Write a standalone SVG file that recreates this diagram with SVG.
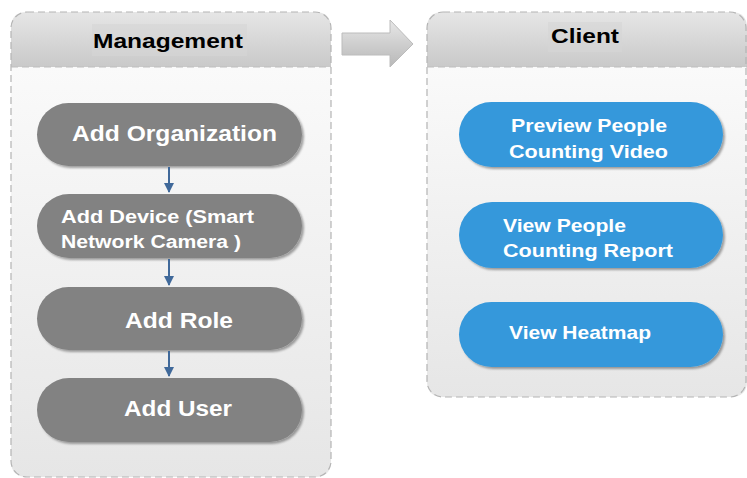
<svg xmlns="http://www.w3.org/2000/svg" width="747" height="478" viewBox="0 0 747 478">
<defs>
<linearGradient id="hdr" x1="0" y1="0" x2="0" y2="1"><stop offset="0" stop-color="#e6e6e6"/><stop offset="1" stop-color="#c9c9c9"/></linearGradient>
<linearGradient id="body" x1="0" y1="0" x2="0" y2="1"><stop offset="0" stop-color="#fafafa"/><stop offset="1" stop-color="#e6e6e6"/></linearGradient>
<linearGradient id="arr" x1="0" y1="0" x2="0" y2="1"><stop offset="0" stop-color="#e8e8e8"/><stop offset="0.5" stop-color="#cfcfcf"/><stop offset="1" stop-color="#b8b8b8"/></linearGradient>
<marker id="ah" viewBox="0 0 10 10" refX="9" refY="5" markerWidth="10" markerHeight="10" markerUnits="userSpaceOnUse" orient="auto"><path d="M0,0 L10,5 L0,10 z" fill="#40699a"/></marker>
<filter id="sh" x="-10%" y="-20%" width="130%" height="150%"><feDropShadow dx="2" dy="2" stdDeviation="1.2" flood-color="#000" flood-opacity="0.35"/></filter>
</defs>
<style>
.panel{stroke:#b4b4b4;stroke-width:1.2;stroke-dasharray:7 4}
.sep{stroke:#bdbdbd;stroke-width:1.2;stroke-dasharray:7 4;fill:none}
.gp{fill:#828282;filter:url(#sh)}
.bp{fill:#3598db;filter:url(#sh)}
.t{font-family:"Liberation Sans",Arial,sans-serif;font-weight:bold;fill:#fff}
.h{font-family:"Liberation Sans",Arial,sans-serif;font-weight:bold;fill:#000;font-size:21px}
.c{stroke:#40699a;stroke-width:2;fill:none;marker-end:url(#ah)}
</style>
<g id="management">
<path d="M11,67 V28 Q11,12 27,12 H315 Q331,12 331,28 V67 Z" fill="url(#hdr)"/>
<path d="M11,67 H331 V461 Q331,477 315,477 H27 Q11,477 11,461 Z" fill="url(#body)"/>
<rect x="11" y="12" width="320" height="465" rx="16" fill="none" class="panel"/>
<line x1="11" y1="67" x2="331" y2="67" class="sep"/>
<rect x="92" y="24" width="155" height="32" fill="#d6d6d6" opacity="0.6"/>
<text x="93" y="48" class="h" textLength="150" lengthAdjust="spacingAndGlyphs">Management</text>
</g>
<g id="client">
<path d="M427,67 V28 Q427,12 443,12 H731 Q747,12 747,28 V67 Z" fill="url(#hdr)"/>
<path d="M427,67 H747 V381 Q747,397 731,397 H443 Q427,397 427,381 Z" fill="url(#body)"/>
<rect x="427" y="12" width="319" height="385" rx="16" fill="none" class="panel"/>
<line x1="427" y1="67" x2="747" y2="67" class="sep"/>
<rect x="548" y="22" width="74" height="30" fill="#d6d6d6" opacity="0.6"/>
<text x="551" y="43" class="h" textLength="68" lengthAdjust="spacingAndGlyphs">Client</text>
</g>
<g id="bigArrow">
<path d="M342,33 H390 V20 L413,44 L390,67 V55 H342 Z" fill="url(#arr)" stroke="#bcbcbc" stroke-width="1"/>
</g>
<g id="n1"><rect x="37" y="103" width="265" height="63" rx="31.5" class="gp"/><text x="72" y="141" class="t" font-size="22" textLength="205" lengthAdjust="spacingAndGlyphs">Add Organization</text></g>
<g id="n2"><rect x="37" y="194" width="265" height="64" rx="32" class="gp"/><text x="61" y="223" class="t" font-size="18" textLength="193" lengthAdjust="spacingAndGlyphs">Add Device (Smart</text><text x="61" y="248" class="t" font-size="18" textLength="180" lengthAdjust="spacingAndGlyphs">Network Camera )</text></g>
<g id="n3"><rect x="37" y="287" width="265" height="63" rx="31.5" class="gp"/><text x="125" y="328" class="t" font-size="22" textLength="108" lengthAdjust="spacingAndGlyphs">Add Role</text></g>
<g id="n4"><rect x="37" y="378" width="265" height="64" rx="32" class="gp"/><text x="124" y="416" class="t" font-size="22" textLength="108" lengthAdjust="spacingAndGlyphs">Add User</text></g>
<g id="b1"><rect x="459" y="102" width="264" height="65" rx="32.5" class="bp"/><text x="511" y="132" class="t" font-size="19" textLength="156" lengthAdjust="spacingAndGlyphs">Preview People</text><text x="509" y="158" class="t" font-size="19" textLength="159" lengthAdjust="spacingAndGlyphs">Counting Video</text></g>
<g id="b2"><rect x="459" y="202" width="264" height="66" rx="33" class="bp"/><text x="503" y="232" class="t" font-size="19" textLength="123" lengthAdjust="spacingAndGlyphs">View People</text><text x="503" y="257" class="t" font-size="19" textLength="170" lengthAdjust="spacingAndGlyphs">Counting Report</text></g>
<g id="b3"><rect x="459" y="302" width="264" height="65" rx="32.5" class="bp"/><text x="509" y="339" class="t" font-size="19" textLength="142" lengthAdjust="spacingAndGlyphs">View Heatmap</text></g>
<g id="connectors">
<line x1="169" y1="167" x2="169" y2="192" class="c"/>
<line x1="169" y1="259" x2="169" y2="285" class="c"/>
<line x1="169" y1="351" x2="169" y2="376" class="c"/>
</g>
</svg>
